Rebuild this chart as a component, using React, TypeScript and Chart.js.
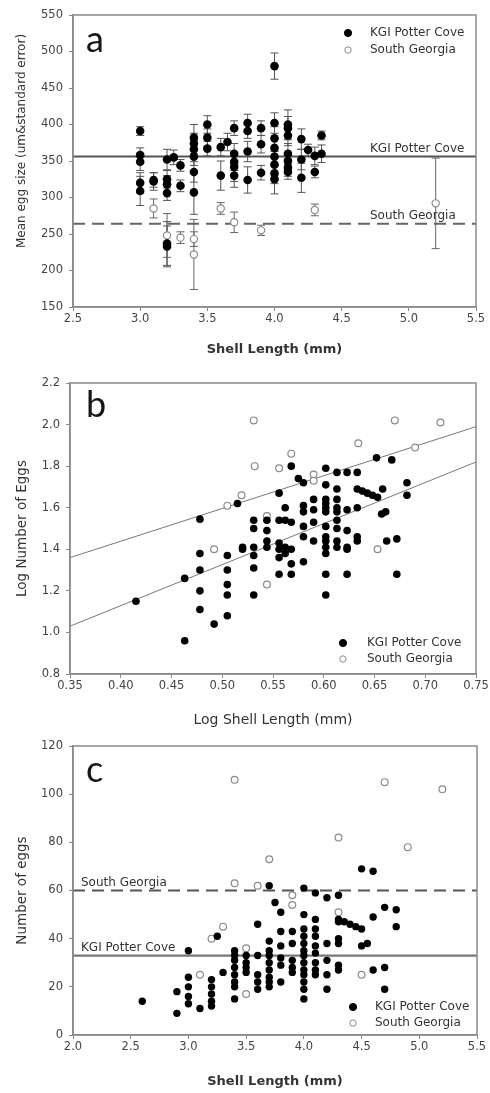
import React, { useEffect, useRef } from 'react';
import { Chart, registerables } from 'chart.js';

Chart.register(...registerables);

const FONT = "'DejaVu Sans', 'Liberation Sans', sans-serif";

// ---------- Panel a: mean egg size vs shell length ----------
const aKgiX = [3.0, 3.0, 3.0, 3.0, 3.0, 3.1, 3.1, 3.2, 3.2, 3.2, 3.2, 3.2, 3.2, 3.25, 3.3, 3.3, 3.4, 3.4, 3.4, 3.4, 3.4, 3.4, 3.5, 3.5, 3.5, 3.6, 3.6, 3.65, 3.7, 3.7, 3.7, 3.7, 3.7, 3.8, 3.8, 3.8, 3.8, 3.9, 3.9, 3.9, 4.0, 4.0, 4.0, 4.0, 4.0, 4.0, 4.0, 4.0, 4.1, 4.1, 4.1, 4.1, 4.1, 4.1, 4.1, 4.2, 4.2, 4.2, 4.25, 4.3, 4.3, 4.35, 4.35];
const aKgiY = [391, 358, 349, 320, 309, 322, 324, 352, 325, 318, 306, 237, 233, 355, 344, 316, 382, 374, 366, 356, 335, 307, 400, 382, 367, 369, 330, 376, 395, 360, 349, 342, 330, 402, 391, 363, 324, 395, 373, 334, 480, 402, 381, 368, 356, 345, 333, 325, 400, 395, 385, 360, 350, 341, 335, 380, 352, 327, 365, 357, 335, 385, 360];
const aKgiErr = [6, 10, 12, 14, 20, 12, 10, 14, 12, 12, 10, 30, 28, 10, 8, 8, 18, 14, 12, 12, 14, 30, 12, 12, 10, 12, 20, 12, 10, 14, 12, 20, 16, 12, 10, 14, 18, 10, 12, 10, 18, 14, 16, 14, 12, 18, 14, 20, 20, 16, 14, 14, 12, 12, 10, 14, 14, 20, 8, 12, 8, 6, 12];
const aSgX = [3.1, 3.2, 3.3, 3.4, 3.4, 3.6, 3.7, 3.9, 4.3, 5.2];
const aSgY = [285, 248, 245, 243, 222, 285, 266, 255, 283, 292];
const aSgErr = [13, 30, 8, 10, 48, 8, 14, 7, 8, 62];
const aRefKgi = 356;
const aRefSg = 264;
const aXTicks = { min: 2.5, max: 5.5, step: 0.5 };
const aYTicks = { min: 150, max: 550, step: 50 };

// ---------- Panel b: log number of eggs vs log shell length ----------
const bKgiX = [0.415, 0.463, 0.463, 0.478, 0.478, 0.478, 0.478, 0.478, 0.492, 0.505, 0.505, 0.505, 0.505, 0.505, 0.515, 0.52, 0.52,
  0.531, 0.531, 0.531, 0.531, 0.531, 0.531, 0.544, 0.544, 0.544, 0.544,
  0.556, 0.556, 0.556, 0.556, 0.556, 0.556, 0.562, 0.562, 0.562, 0.562,
  0.568, 0.568, 0.568, 0.568, 0.568, 0.575, 0.58, 0.58, 0.58, 0.58, 0.58, 0.58,
  0.59, 0.59, 0.59, 0.59,
  0.602, 0.602, 0.602, 0.602, 0.602, 0.602, 0.602, 0.602, 0.602, 0.602, 0.602, 0.602, 0.602,
  0.613, 0.613, 0.613, 0.613, 0.613, 0.613, 0.613, 0.613, 0.613,
  0.623, 0.623, 0.623, 0.623, 0.623, 0.623, 0.633, 0.633, 0.633, 0.633, 0.633,
  0.638, 0.643, 0.648, 0.653, 0.658, 0.652, 0.667, 0.657, 0.661, 0.662, 0.672, 0.672, 0.682, 0.682];
const bKgiY = [1.15, 0.96, 1.26, 1.545, 1.38, 1.30, 1.20, 1.11, 1.04, 1.37, 1.30, 1.23, 1.18, 1.08, 1.62, 1.41, 1.40,
  1.54, 1.50, 1.41, 1.37, 1.31, 1.18, 1.54, 1.49, 1.44, 1.41,
  1.67, 1.54, 1.43, 1.40, 1.36, 1.28, 1.60, 1.54, 1.41, 1.38,
  1.80, 1.53, 1.40, 1.33, 1.28, 1.74, 1.72, 1.61, 1.58, 1.51, 1.46, 1.34,
  1.64, 1.59, 1.53, 1.44,
  1.79, 1.71, 1.64, 1.62, 1.60, 1.58, 1.51, 1.46, 1.44, 1.41, 1.38, 1.28, 1.18,
  1.77, 1.69, 1.64, 1.60, 1.58, 1.54, 1.50, 1.44, 1.41,
  1.77, 1.59, 1.49, 1.41, 1.40, 1.28, 1.77, 1.69, 1.60, 1.46, 1.44,
  1.68, 1.67, 1.66, 1.65, 1.69, 1.84, 1.83, 1.57, 1.58, 1.44, 1.45, 1.28, 1.72, 1.66];
const bSgX = [0.492, 0.505, 0.519, 0.531, 0.532, 0.544, 0.544, 0.556, 0.568, 0.59, 0.59, 0.634, 0.653, 0.67, 0.69, 0.715];
const bSgY = [1.40, 1.61, 1.66, 2.02, 1.80, 1.56, 1.23, 1.79, 1.86, 1.76, 1.73, 1.91, 1.40, 2.02, 1.89, 2.01];
const bRegKgiX = [0.35, 0.75];
const bRegKgiY = [1.03, 1.82];
const bRegSgX = [0.35, 0.75];
const bRegSgY = [1.36, 1.99];
const bXTicks = { min: 0.35, max: 0.75, step: 0.05 };
const bYTicks = { min: 0.8, max: 2.2, step: 0.2 };

// ---------- Panel c: number of eggs vs shell length ----------
const cKgiX = [2.6, 2.9, 2.9, 3.0, 3.0, 3.0, 3.0, 3.0, 3.1, 3.2, 3.2, 3.2, 3.2, 3.2, 3.25, 3.3,
  3.4, 3.4, 3.4, 3.4, 3.4, 3.4, 3.4, 3.4, 3.5, 3.5, 3.5, 3.5, 3.6, 3.6, 3.6, 3.6, 3.6,
  3.7, 3.7, 3.7, 3.7, 3.7, 3.7, 3.7, 3.7, 3.7, 3.75, 3.8, 3.8, 3.8, 3.8, 3.8, 3.8,
  3.9, 3.9, 3.9, 3.9, 3.9,
  4.0, 4.0, 4.0, 4.0, 4.0, 4.0, 4.0, 4.0, 4.0, 4.0, 4.0, 4.0, 4.0,
  4.1, 4.1, 4.1, 4.1, 4.1, 4.1, 4.1, 4.1, 4.1, 4.2, 4.2, 4.2, 4.2, 4.2,
  4.3, 4.3, 4.3, 4.3, 4.3, 4.3, 4.3, 4.35, 4.4, 4.45, 4.5, 4.5, 4.5, 4.55,
  4.6, 4.6, 4.6, 4.7, 4.7, 4.7, 4.8, 4.8];
const cKgiY = [14, 18, 9, 35, 24, 20, 16, 13, 11, 23, 20, 17, 14, 12, 41, 26,
  35, 33, 31, 28, 25, 22, 20, 15, 33, 30, 28, 26, 46, 33, 25, 22, 19,
  62, 39, 35, 33, 30, 27, 24, 22, 20, 55, 51, 43, 37, 32, 29, 22,
  43, 38, 31, 28, 26,
  61, 50, 44, 41, 38, 35, 33, 30, 27, 25, 22, 19, 15,
  59, 48, 44, 41, 37, 34, 30, 27, 25, 57, 38, 31, 25, 19,
  58, 48, 47, 40, 38, 29, 27, 47, 46, 45, 44, 69, 37, 38,
  68, 49, 27, 53, 28, 19, 52, 45];
const cSgX = [3.4, 4.7, 5.2, 4.3, 4.9, 3.7, 3.4, 3.6, 3.9, 3.9, 4.3, 3.3, 3.2, 3.5, 3.1, 4.5, 3.5];
const cSgY = [106, 105, 102, 82, 78, 73, 63, 62, 58, 54, 51, 45, 40, 36, 25, 25, 17];
const cRefSg = 60;
const cRefKgi = 33;
const cXTicks = { min: 2.0, max: 5.5, step: 0.5 };
const cYTicks = { min: 0, max: 120, step: 20 };

const LABEL_KGI = 'KGI Potter Cove';
const LABEL_SG = 'South Georgia';

const pts = (xs: number[], ys: number[]) => xs.map((x, i) => ({ x, y: ys[i] }));

const errorBarPlugin = {
  id: 'errorBars',
  beforeDatasetsDraw(chart: any) {
    const { ctx, scales } = chart;
    chart.data.datasets.forEach((ds: any) => {
      if (!ds.errors) return;
      ctx.save();
      ctx.strokeStyle = ds.errorColor || '#555';
      ctx.lineWidth = 1;
      ds.data.forEach((p: any, i: number) => {
        const e = ds.errors[i];
        const px = scales.x.getPixelForValue(p.x);
        const y1 = scales.y.getPixelForValue(p.y - e);
        const y2 = scales.y.getPixelForValue(p.y + e);
        ctx.beginPath();
        ctx.moveTo(px, y1); ctx.lineTo(px, y2);
        ctx.moveTo(px - 4, y1); ctx.lineTo(px + 4, y1);
        ctx.moveTo(px - 4, y2); ctx.lineTo(px + 4, y2);
        ctx.stroke();
      });
      ctx.restore();
    });
  },
};

const overlayPlugin = {
  id: 'overlay',
  afterDraw(chart: any, _args: any, opts: any) {
    const { ctx, chartArea: ca, scales } = chart;
    ctx.save();
    ctx.strokeStyle = '#8a8a8a';
    ctx.lineWidth = 1.5;
    ctx.strokeRect(ca.left, ca.top, ca.right - ca.left, ca.bottom - ca.top);

    ctx.font = `12px ${FONT}`;
    ctx.textAlign = 'left';
    ctx.textBaseline = 'middle';
    (opts.refLabels || []).forEach((r: any) => {
      ctx.fillStyle = '#333';
      ctx.fillText(r.text, r.x, scales.y.getPixelForValue(r.value) - 8);
    });

    const lg = opts.legend;
    if (lg) {
      chart.data.datasets.filter((d: any) => d.inLegend).forEach((d: any, i: number) => {
        const y = lg.y + i * lg.gap;
        ctx.beginPath();
        ctx.arc(lg.mx, y, d.legendRadius, 0, Math.PI * 2);
        ctx.fillStyle = d.backgroundColor;
        ctx.fill();
        ctx.lineWidth = 1;
        ctx.strokeStyle = d.borderColor;
        ctx.stroke();
        ctx.fillStyle = '#333';
        ctx.font = `12px ${FONT}`;
        ctx.fillText(d.label, lg.tx, y);
      });
    }

    if (opts.yTitle) {
      const t = opts.yTitle;
      ctx.save();
      ctx.translate(t.x, t.y);
      ctx.rotate(-Math.PI / 2);
      ctx.font = `${t.size}px ${FONT}`;
      ctx.fillStyle = '#333';
      ctx.textAlign = 'center';
      ctx.textBaseline = 'middle';
      ctx.fillText(t.text, 0, 0);
      ctx.restore();
    }

    ctx.font = `36px Lato, 'Open Sans', sans-serif`;
    ctx.fillStyle = '#161616';
    ctx.textAlign = 'left';
    ctx.textBaseline = 'alphabetic';
    ctx.fillText(opts.letter, 86, 52);
    ctx.restore();
  },
};

function xAxis(t: any, dec: number, title: string, bold: boolean, size: number, height: number, padBottom: number) {
  return {
    type: 'linear',
    position: 'bottom',
    min: t.min,
    max: t.max,
    ticks: {
      stepSize: t.step,
      autoSkip: false,
      maxRotation: 0,
      padding: 1,
      color: '#444',
      font: { family: FONT, size: 11.5 },
      callback: (v: any) => Number(v).toFixed(dec),
    },
    grid: { drawOnChartArea: false, drawTicks: true, tickLength: 4, color: '#888', lineWidth: 1 },
    border: { display: true, color: '#888', width: 1.5 },
    title: {
      display: true,
      text: title,
      color: '#333',
      font: { family: FONT, size, weight: bold ? 'bold' : 'normal' },
      padding: { top: 0, bottom: padBottom },
    },
    afterFit: (s: any) => { s.height = height; },
  };
}

function yAxis(t: any, dec: number, title: string | null, size: number, width: number) {
  return {
    type: 'linear',
    min: t.min,
    max: t.max,
    ticks: {
      stepSize: t.step,
      autoSkip: false,
      padding: 6,
      color: '#444',
      font: { family: FONT, size: 11.5 },
      callback: (v: any) => Number(v).toFixed(dec),
    },
    grid: { drawOnChartArea: false, drawTicks: true, tickLength: 4, color: '#888', lineWidth: 1 },
    border: { display: true, color: '#888', width: 1.5 },
    title: {
      display: !!title,
      text: title || '',
      color: '#333',
      font: { family: FONT, size },
      padding: { top: 22 - (size * 1.2) / 2, bottom: 0 },
    },
    afterFit: (s: any) => { s.width = width; },
  };
}

const kgiStyle = (r: number) => ({
  backgroundColor: '#000',
  borderColor: '#000',
  borderWidth: 0,
  pointRadius: r,
  pointHoverRadius: r,
  legendRadius: 3.6,
  inLegend: true,
});
const sgStyle = (r: number) => ({
  backgroundColor: '#fff',
  borderColor: '#8a8a8a',
  borderWidth: 1.2,
  pointRadius: r,
  pointHoverRadius: r,
  legendRadius: 3.2,
  inLegend: true,
});
const lineStyle = (color: string, width: number, dash: number[]) => ({
  showLine: true,
  pointRadius: 0,
  borderColor: color,
  borderWidth: width,
  borderDash: dash,
  fill: false,
});

function baseOptions(padTop: number, padRight: number, scales: any, overlay: any) {
  return {
    animation: false,
    responsive: false,
    maintainAspectRatio: false,
    events: [],
    layout: { padding: { top: padTop, right: padRight, left: 0, bottom: 0 } },
    scales,
    plugins: { legend: { display: false }, tooltip: { enabled: false }, overlay },
  };
}

function configA() {
  return {
    type: 'scatter',
    data: {
      datasets: [
        { label: LABEL_KGI, data: pts(aKgiX, aKgiY), errors: aKgiErr, errorColor: '#555', ...kgiStyle(4.3) },
        { label: LABEL_SG, data: pts(aSgX, aSgY), errors: aSgErr, errorColor: '#666', ...sgStyle(3.6) },
        { label: 'refKgi', data: [{ x: aXTicks.min, y: aRefKgi }, { x: aXTicks.max, y: aRefKgi }], ...lineStyle('#555', 2, []) },
        { label: 'refSg', data: [{ x: aXTicks.min, y: aRefSg }, { x: aXTicks.max, y: aRefSg }], ...lineStyle('#666', 2, [12, 7]) },
      ],
    },
    options: baseOptions(15, 14, {
      x: xAxis(aXTicks, 1, 'Shell Length (mm)', true, 13, 58, 7.2),
      y: yAxis(aYTicks, 0, null, 12, 73),
    }, {
      letter: 'a',
      legend: { mx: 348, tx: 370, y: 33, gap: 17 },
      refLabels: [{ text: LABEL_KGI, x: 370, value: aRefKgi }, { text: LABEL_SG, x: 370, value: aRefSg }],
      yTitle: { text: 'Mean egg size (um&standard error)', x: 22, y: 141, size: 12 },
    }),
    plugins: [errorBarPlugin, overlayPlugin],
  };
}

function configB() {
  return {
    type: 'scatter',
    data: {
      datasets: [
        { label: LABEL_KGI, data: pts(bKgiX, bKgiY), ...kgiStyle(3.8) },
        { label: LABEL_SG, data: pts(bSgX, bSgY), ...sgStyle(3.4) },
        { label: 'regKgi', data: pts(bRegKgiX, bRegKgiY), ...lineStyle('#777', 1, []) },
        { label: 'regSg', data: pts(bRegSgX, bRegSgY), ...lineStyle('#777', 1, []) },
      ],
    },
    options: baseOptions(18, 14, {
      x: xAxis(bXTicks, 2, 'Log Shell Length (mm)', false, 14, 56, 1.6),
      y: yAxis(bYTicks, 1, 'Log Number of Eggs', 13.5, 70),
    }, {
      letter: 'b',
      legend: { mx: 343, tx: 367, y: 278, gap: 16 },
    }),
    plugins: [overlayPlugin],
  };
}

function configC() {
  return {
    type: 'scatter',
    data: {
      datasets: [
        { label: LABEL_KGI, data: pts(cKgiX, cKgiY), ...kgiStyle(3.7) },
        { label: LABEL_SG, data: pts(cSgX, cSgY), ...sgStyle(3.4) },
        { label: 'refSg', data: [{ x: cXTicks.min, y: cRefSg }, { x: cXTicks.max, y: cRefSg }], ...lineStyle('#555', 2, [12, 7]) },
        { label: 'refKgi', data: [{ x: cXTicks.min, y: cRefKgi }, { x: cXTicks.max, y: cRefKgi }], ...lineStyle('#777', 2.2, []) },
      ],
    },
    options: baseOptions(16, 13, {
      x: xAxis(cXTicks, 1, 'Shell Length (mm)', true, 13, 58, 3.2),
      y: yAxis(cYTicks, 0, 'Number of eggs', 13.5, 73),
    }, {
      letter: 'c',
      legend: { mx: 353, tx: 375, y: 277, gap: 16 },
      refLabels: [{ text: LABEL_SG, x: 81, value: cRefSg }, { text: LABEL_KGI, x: 81, value: cRefKgi }],
    }),
    plugins: [overlayPlugin],
  };
}

function Panel({ make, top, height }: { make: () => any; top: number; height: number }) {
  const ref = useRef<HTMLCanvasElement>(null);
  useEffect(() => {
    const chart = new Chart(ref.current as HTMLCanvasElement, make());
    return () => chart.destroy();
  }, []);
  return (
    <canvas
      ref={ref}
      width={490}
      height={height}
      style={{ position: 'absolute', left: 0, top, width: 490, height, display: 'block' }}
    />
  );
}

export default function App() {
  return (
    <div style={{ position: 'absolute', left: 0, top: 0, width: 490, height: 1093, background: '#fff', overflow: 'hidden' }}>
      <Panel make={configA} top={0} height={365} />
      <Panel make={configB} top={365} height={365} />
      <Panel make={configC} top={730} height={363} />
    </div>
  );
}
